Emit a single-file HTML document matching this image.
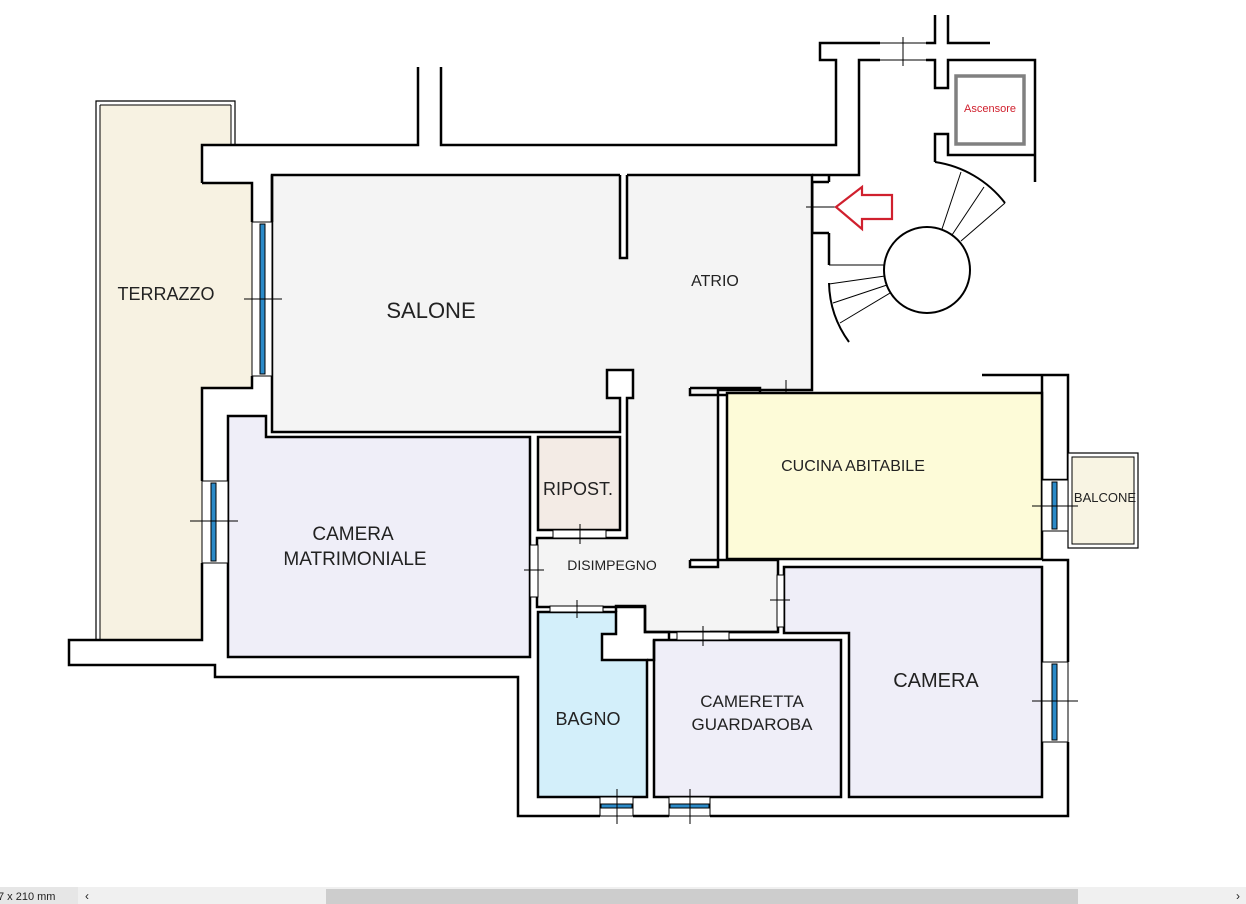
<!DOCTYPE html>
<html><head><meta charset="utf-8"><style>
html,body{margin:0;padding:0;background:#fff;}
svg{display:block}
text{font-family:"Liberation Sans",sans-serif;fill:#222;}
</style></head><body>
<svg width="1246" height="904" viewBox="0 0 1246 904" xmlns="http://www.w3.org/2000/svg">
<g stroke="#000" stroke-width="2.5" fill="none" stroke-linejoin="miter">
<!-- Terrazzo -->
<polygon points="100,105 231,105 231,145 202,145 202,183 252,183 252,388 202,388 202,640 100,640" fill="#f7f2e2" stroke="none"/>
<polyline points="96,640 96,101 235,101 235,145" stroke-width="1.2"/>
<line x1="100" y1="105" x2="100" y2="640" stroke-width="1"/>
<line x1="100" y1="105" x2="231" y2="105" stroke-width="1"/>
<line x1="231" y1="105" x2="231" y2="145" stroke-width="1"/>
<!-- Exterior walls outline -->
<polyline points="202,183 202,145 418,145 418,67"/>
<polyline points="441,67 441,145 836,145 836,60 820,60 820,43 880,43"/>
<polyline points="880,60 859,60 859,175 812,175"/>
<polyline points="202,183 252,183 252,222"/>
<polyline points="252,376 252,388 202,388 202,481"/>
<polyline points="202,563 202,640 69,640 69,665 215,665 215,677 518,677 518,816 600,816"/>
<polyline points="633,816 669,816"/>
<polyline points="710,816 1068,816 1068,742"/>
<polyline points="1068,662 1068,560 1042,560"/>
<polyline points="1068,531 1068,375 982,375"/>
<polyline points="1042,480 1042,375"/>
<polyline points="1068,480 1042,480"/>
<!-- top right -->
<polyline points="935,15 935,43 926,43"/>
<polyline points="948,15 948,43 990,43"/>
<polyline points="926,60 935,60 935,88 948,88 948,60 1035,60 1035,182"/>
<polyline points="935,162 935,134 948,134 948,155 1035,155"/>
<line x1="880" y1="43" x2="926" y2="43" stroke-width="1"/>
<line x1="880" y1="60" x2="926" y2="60" stroke-width="1"/>
<line x1="903" y1="37" x2="903" y2="66" stroke-width="1"/>
<rect x="956" y="76" width="68" height="68" stroke="#808080" stroke-width="3.5" fill="#fff"/>
<!-- Gray main region -->
<polygon points="272,175 812,175 812,390 718,390 718,560 778,560 778,632 645,632 645,607 537,607 537,538 627,538 627,398 633,398 633,370 607,370 607,398 620,398 620,432 272,432" fill="#f4f4f4"/>
<rect x="620" y="172" width="7" height="86" fill="#fff" stroke="none"/>
<polyline points="620,175 620,258 627,258 627,175"/>
<line x1="272" y1="175" x2="272" y2="222"/>
<!-- atrio door -->
<rect x="813" y="182" width="16" height="51" fill="#fff" stroke="none"/>
<line x1="812" y1="182" x2="829" y2="182"/>
<line x1="812" y1="233" x2="829" y2="233"/>
<line x1="813" y1="182" x2="813" y2="233" stroke-width="1"/>
<line x1="829" y1="175" x2="829" y2="182"/>
<line x1="829" y1="233" x2="829" y2="265"/>
<line x1="806" y1="207" x2="836" y2="207" stroke-width="1"/>
<!-- kitchen door -->
<polyline points="690,388 760,388 760,395 690,395 690,388"/>
<line x1="760" y1="395" x2="812" y2="395" stroke-width="1.2"/>
<line x1="786" y1="380" x2="786" y2="400" stroke-width="1"/>
<polyline points="690,560 718,560 718,567 690,567 690,560" fill="#fff"/>
<!-- Rooms -->
<polygon points="228,416 266,416 266,437 530,437 530,657 228,657" fill="#efeef8"/>
<rect x="538" y="437" width="82" height="93" fill="#f3ebe5"/>
<rect x="727" y="393" width="315" height="166" fill="#fdfbd8"/>
<polygon points="784,567 1042,567 1042,797 849,797 849,633 784,633" fill="#efeef8"/>
<rect x="654" y="640" width="187" height="157" fill="#efeef8"/>
<polygon points="538,612 616,612 616,634 602,634 602,660 647,660 647,797 538,797" fill="#d3effa"/>
<polyline points="616,612 616,606 645,606 645,632 669,632 669,640"/>
<polyline points="710,632 778,632"/>
<polyline points="654,640 654,660 647,660"/>
<!-- Balcone -->
<rect x="1068" y="453" width="70" height="95" stroke-width="1.2" fill="#fff"/>
<rect x="1072" y="457" width="62" height="87" stroke-width="1" fill="#f8f4e3"/>
</g>
<!-- windows -->
<g stroke="#000" stroke-width="1">
<rect x="252" y="222" width="20" height="154" fill="#fff"/>
<rect x="260" y="224" width="5" height="150" fill="#2b8ac8"/>
<line x1="244" y1="299" x2="282" y2="299"/>
<rect x="202" y="481" width="26" height="82" fill="#fff"/>
<rect x="211" y="483" width="5" height="78" fill="#2b8ac8"/>
<line x1="190" y1="521" x2="238" y2="521"/>
<rect x="1042" y="480" width="26" height="51" fill="#fff"/>
<rect x="1052" y="482" width="5" height="47" fill="#2b8ac8"/>
<line x1="1032" y1="506" x2="1078" y2="506"/>
<rect x="1042" y="662" width="26" height="80" fill="#fff"/>
<rect x="1052" y="664" width="5" height="76" fill="#2b8ac8"/>
<line x1="1032" y1="701" x2="1078" y2="701"/>
<rect x="600" y="797" width="33" height="19" fill="#fff"/>
<rect x="601" y="804" width="31" height="4" fill="#2b8ac8"/>
<line x1="617" y1="789" x2="617" y2="824"/>
<rect x="669" y="797" width="41" height="19" fill="#fff"/>
<rect x="670" y="804" width="39" height="4" fill="#2b8ac8"/>
<line x1="690" y1="789" x2="690" y2="824"/>
<!-- interior doors -->
<rect x="553" y="530" width="53" height="8" fill="#fff"/>
<line x1="580" y1="524" x2="580" y2="544"/>
<rect x="530" y="545" width="8" height="52" fill="#fff"/>
<line x1="524" y1="570" x2="544" y2="570"/>
<rect x="550" y="606" width="53" height="6" fill="#fff"/>
<line x1="577" y1="600" x2="577" y2="618"/>
<rect x="677" y="632" width="52" height="8" fill="#fff"/>
<line x1="703" y1="626" x2="703" y2="646"/>
<rect x="777" y="575" width="7" height="52" fill="#fff"/>
<line x1="770" y1="600" x2="790" y2="600"/>
</g>
<!-- stairs -->
<g stroke="#000" fill="none">
<circle cx="927" cy="270" r="43" stroke-width="2" fill="#fff"/>
<path d="M935,162 A108,108 0 0 1 1005,203" stroke-width="2"/>
<path d="M829,283 A104,104 0 0 0 849,342" stroke-width="2"/>
<g stroke-width="1">
<line x1="942" y1="229" x2="961" y2="172"/>
<line x1="952" y1="235" x2="984" y2="187"/>
<line x1="961" y1="241" x2="1005" y2="203"/>
<line x1="884" y1="265" x2="829" y2="265"/>
<line x1="885" y1="276" x2="829" y2="284"/>
<line x1="887" y1="285" x2="833" y2="303"/>
<line x1="890" y1="293" x2="840" y2="323"/>
</g>
</g>
<polygon points="836,207 862,187 862,195 892,195 892,219 862,219 862,229" fill="#fff" stroke="#d0202e" stroke-width="2.2"/>
<text x="990" y="112" font-size="11" text-anchor="middle" style="fill:#d0202e">Ascensore</text>
<!-- labels -->
<g text-anchor="middle">
<text x="166" y="300" font-size="18">TERRAZZO</text>
<text x="431" y="318" font-size="22">SALONE</text>
<text x="715" y="286" font-size="16">ATRIO</text>
<text x="853" y="471" font-size="16">CUCINA ABITABILE</text>
<text x="1105" y="502" font-size="13">BALCONE</text>
<text x="578" y="495" font-size="18">RIPOST.</text>
<text x="353" y="540" font-size="19">CAMERA</text>
<text x="355" y="565" font-size="19">MATRIMONIALE</text>
<text x="612" y="570" font-size="14">DISIMPEGNO</text>
<text x="588" y="725" font-size="18">BAGNO</text>
<text x="752" y="707" font-size="17">CAMERETTA</text>
<text x="752" y="730" font-size="17">GUARDAROBA</text>
<text x="936" y="687" font-size="20">CAMERA</text>
</g>
<!-- status bar -->
<rect x="0" y="887" width="1246" height="17" fill="#f0f0f0"/>
<rect x="0" y="887" width="78" height="17" fill="#e6e6e6"/>
<rect x="326" y="889" width="752" height="15" fill="#cdcdcd"/>
<text x="-2" y="900" font-size="11">7 x 210 mm</text>
<text x="85" y="900" font-size="12">‹</text>
<text x="1236" y="900" font-size="12">›</text>
</svg>
</body></html>
